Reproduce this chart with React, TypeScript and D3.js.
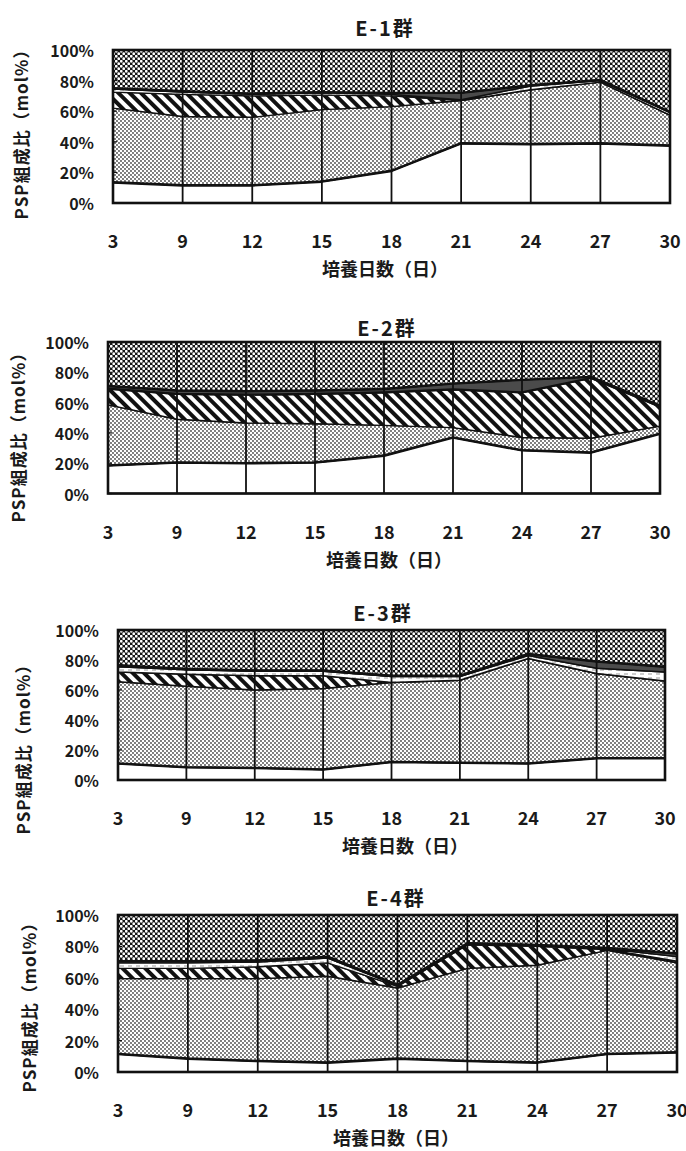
import { useEffect, useRef } from 'react';
import * as d3 from 'd3';

const W = 686;
const H = 1151;

const days = ['3', '9', '12', '15', '18', '21', '24', '27', '30'];
const yTicks = [0, 20, 40, 60, 80, 100];
const seriesKeys = ['white', 'light', 'hatch', 'dash', 'gray', 'dark'];

// E-1群 (mol%)
const e1White = [13.5, 11.5, 11.5, 14, 21, 39, 38.5, 39, 37.5];
const e1Light = [48.5, 45, 44.5, 47, 42, 28, 35.5, 40, 20];
const e1Hatch = [10.5, 14.5, 14, 9.5, 7, 0, 0, 0, 0];
const e1Dash = [2, 1.5, 1, 1.5, 1, 0.5, 2.5, 1, 1.5];
const e1Gray = [0.5, 0.5, 0.5, 0.5, 1, 4.5, 0.5, 0.5, 0.5];
const e1Dark = [25, 27, 28.5, 27.5, 28, 28, 23, 19.5, 40.5];

// E-2群
const e2White = [18.5, 20.5, 20, 20.5, 25, 37, 28.5, 27, 39.5];
const e2Light = [40, 28.5, 26.5, 25.5, 20, 6.5, 8.5, 9.5, 5];
const e2Hatch = [10.5, 16.5, 18.5, 19.5, 21.5, 25, 29.5, 39.5, 12.5];
const e2Dash = [0.5, 0.5, 0.5, 0.5, 0.5, 0.5, 0.5, 0.5, 0.5];
const e2Gray = [1.5, 2, 2, 2, 2, 3.5, 8, 0.5, 0.5];
const e2Dark = [29, 32, 32.5, 32, 31, 27.5, 25, 23, 42];

// E-3群
const e3White = [11, 8.5, 8, 7, 12, 11.5, 11, 14.5, 14.5];
const e3Light = [54.5, 54, 52, 54, 53, 55, 70, 56.5, 51.5];
const e3Hatch = [6.5, 8, 9.5, 8.5, 0, 0, 0, 0, 0];
const e3Dash = [3.5, 3, 3, 3, 4, 2.5, 2, 3.5, 6];
const e3Gray = [1, 0.5, 0.5, 0.5, 0.5, 0.5, 1, 4.5, 3.5];
const e3Dark = [23.5, 26, 27, 27, 30.5, 30.5, 16, 21, 24.5];

// E-4群
const e4White = [11.5, 8.5, 7, 6, 8.5, 7, 6, 11.5, 12.5];
const e4Light = [48, 51, 52.5, 55, 45, 59, 62, 66, 57];
const e4Hatch = [6.5, 6.5, 7.5, 8.5, 1, 15, 12, 0.5, 1];
const e4Dash = [3.5, 3.5, 3, 3, 0.5, 0.5, 0.5, 0.5, 3];
const e4Gray = [1, 1, 1, 1, 0.5, 0.5, 0.5, 0.5, 2];
const e4Dark = [29.5, 29.5, 29, 26.5, 44.5, 18, 19, 21, 24.5];

const groups = [
  { title: 'E-1群', white: e1White, light: e1Light, hatch: e1Hatch, dash: e1Dash, gray: e1Gray, dark: e1Dark },
  { title: 'E-2群', white: e2White, light: e2Light, hatch: e2Hatch, dash: e2Dash, gray: e2Gray, dark: e2Dark },
  { title: 'E-3群', white: e3White, light: e3Light, hatch: e3Hatch, dash: e3Dash, gray: e3Gray, dark: e3Dark },
  { title: 'E-4群', white: e4White, light: e4Light, hatch: e4Hatch, dash: e4Dash, gray: e4Gray, dark: e4Dark },
];

// where each panel sits on the page
const frames = [
  { left: 113, right: 670, top: 50, bottom: 203, titleX: 385, titleY: 27, xLabelX: 385, yLabelX: 20, yLabelY: 130 },
  { left: 108, right: 660, top: 342, bottom: 493.5, titleX: 387, titleY: 327, xLabelX: 389, yLabelX: 17, yLabelY: 433 },
  { left: 118, right: 665, top: 630, bottom: 780, titleX: 383, titleY: 612, xLabelX: 405, yLabelX: 22, yLabelY: 745 },
  { left: 118, right: 677, top: 915, bottom: 1072, titleX: 396, titleY: 897, xLabelX: 396, yLabelX: 28, yLabelY: 1003 },
];

const fills = {
  white: '#fff',
  light: 'url(#lightDots)',
  hatch: 'url(#hatch)',
  dash: 'url(#dashWhite)',
  gray: '#4b4b4b',
  dark: 'url(#darkDots)',
};

const FONT = "'Noto Sans CJK JP', 'Noto Sans', sans-serif";

export default function App() {
  const ref = useRef<SVGSVGElement>(null);

  useEffect(() => {
    const svg = d3.select(ref.current);
    svg.selectAll('*').remove();

    // Patrones
    const defs = svg.append('defs');
    const light = defs.append('pattern')
      .attr('id', 'lightDots').attr('patternUnits', 'userSpaceOnUse')
      .attr('width', 4).attr('height', 4);
    light.append('rect').attr('width', 4).attr('height', 4).attr('fill', '#fff');
    light.append('circle').attr('cx', 1).attr('cy', 1).attr('r', 0.9).attr('fill', '#444');
    light.append('circle').attr('cx', 3).attr('cy', 3).attr('r', 0.9).attr('fill', '#444');

    const dark = defs.append('pattern')
      .attr('id', 'darkDots').attr('patternUnits', 'userSpaceOnUse')
      .attr('width', 5).attr('height', 5);
    dark.append('rect').attr('width', 5).attr('height', 5).attr('fill', '#151515');
    dark.append('circle').attr('cx', 1.25).attr('cy', 1.25).attr('r', 1.4).attr('fill', '#fff');
    dark.append('circle').attr('cx', 3.75).attr('cy', 3.75).attr('r', 1.4).attr('fill', '#fff');

    const hatch = defs.append('pattern')
      .attr('id', 'hatch').attr('patternUnits', 'userSpaceOnUse')
      .attr('width', 8).attr('height', 8)
      .attr('patternTransform', 'rotate(-45)');
    hatch.append('rect').attr('width', 8).attr('height', 8).attr('fill', '#fff');
    hatch.append('rect').attr('width', 4).attr('height', 8).attr('fill', '#111');

    const dash = defs.append('pattern')
      .attr('id', 'dashWhite').attr('patternUnits', 'userSpaceOnUse')
      .attr('width', 8).attr('height', 4);
    dash.append('rect').attr('width', 8).attr('height', 4).attr('fill', '#fff');
    dash.append('rect').attr('x', 0).attr('y', 1.5).attr('width', 4).attr('height', 1).attr('fill', '#999');

    groups.forEach((g, gi) => {
      const f = frames[gi];
      const x = d3.scalePoint().domain(days).range([f.left, f.right]);
      const y = d3.scaleLinear().domain([0, 100]).range([f.bottom, f.top]);
      const table = days.map((d, i) => ({
        day: d,
        white: g.white[i], light: g.light[i], hatch: g.hatch[i],
        dash: g.dash[i], gray: g.gray[i], dark: g.dark[i],
      }));
      const stacked = d3.stack().keys(seriesKeys)(table as any);
      const area = d3.area<any>()
        .x(d => x(d.data.day))
        .y0(d => y(d[0]))
        .y1(d => y(d[1]));
      const panel = svg.append('g');

      // Áreas apiladas
      panel.selectAll('path.layer')
        .data(stacked)
        .join('path')
        .attr('class', 'layer')
        .attr('d', area)
        .attr('fill', d => fills[d.key])
        .attr('stroke', '#111')
        .attr('stroke-width', 1.4)
        .attr('stroke-linejoin', 'round');

      // Líneas gruesas: techo del blanco y base del punteado oscuro
      const edge = (k: number, top: boolean) => d3.line<any>()
        .x(d => x(d.data.day))
        .y(d => y(top ? d[1] : d[0]))(stacked[k]);
      panel.append('path').attr('d', edge(0, true)).attr('fill', 'none')
        .attr('stroke', '#111').attr('stroke-width', 2.6).attr('stroke-linejoin', 'round');
      panel.append('path').attr('d', edge(5, false)).attr('fill', 'none')
        .attr('stroke', '#111').attr('stroke-width', 2.4).attr('stroke-linejoin', 'round');

      // Verticales en cada día
      panel.selectAll('line.grid')
        .data(days)
        .join('line')
        .attr('class', 'grid')
        .attr('x1', d => x(d)).attr('x2', d => x(d))
        .attr('y1', f.top).attr('y2', f.bottom)
        .attr('stroke', '#111').attr('stroke-width', 1.8);

      // Marco
      panel.append('rect')
        .attr('x', f.left).attr('y', f.top)
        .attr('width', f.right - f.left).attr('height', f.bottom - f.top)
        .attr('fill', 'none').attr('stroke', '#111').attr('stroke-width', 2.6);

      // Eje Y
      panel.selectAll('line.ytick')
        .data(yTicks)
        .join('line')
        .attr('class', 'ytick')
        .attr('x1', f.left).attr('x2', f.left + 4)
        .attr('y1', d => y(d)).attr('y2', d => y(d))
        .attr('stroke', '#111').attr('stroke-width', 1.2);
      panel.selectAll('text.ylab')
        .data(yTicks)
        .join('text')
        .attr('class', 'ylab')
        .attr('x', f.left - 19)
        .attr('y', d => y(d))
        .attr('text-anchor', 'end')
        .attr('dominant-baseline', 'central')
        .attr('font-family', FONT)
        .attr('font-size', 16)
        .attr('font-weight', 600)
        .attr('fill', '#1a1a1a')
        .text(d => d + '%');

      // Eje X
      panel.selectAll('text.xlab')
        .data(days)
        .join('text')
        .attr('class', 'xlab')
        .attr('x', d => x(d))
        .attr('y', f.bottom + 37)
        .attr('text-anchor', 'middle')
        .attr('dominant-baseline', 'central')
        .attr('font-family', FONT)
        .attr('font-size', 18)
        .attr('font-weight', 600)
        .attr('fill', '#1a1a1a')
        .text(d => d);

      // Títulos
      panel.append('text')
        .attr('x', f.titleX).attr('y', f.titleY)
        .attr('text-anchor', 'middle').attr('dominant-baseline', 'central')
        .attr('font-family', FONT).attr('font-size', 20).attr('letter-spacing', 2)
        .attr('font-weight', 600)
        .attr('fill', '#1a1a1a')
        .text(g.title);
      panel.append('text')
        .attr('x', f.xLabelX).attr('y', f.bottom + 65)
        .attr('text-anchor', 'middle').attr('dominant-baseline', 'central')
        .attr('font-family', FONT).attr('font-size', 18)
        .attr('font-weight', 600)
        .attr('fill', '#1a1a1a')
        .text('培養日数（日）');
      panel.append('text')
        .attr('transform', `translate(${f.yLabelX},${f.yLabelY}) rotate(-90)`)
        .attr('text-anchor', 'middle').attr('dominant-baseline', 'central')
        .attr('font-family', FONT).attr('font-size', 17).attr('letter-spacing', 1)
        .attr('font-weight', 600)
        .attr('fill', '#1a1a1a')
        .text('PSP組成比（mol%）');
    });
  }, []);

  return (
    <svg
      ref={ref}
      width={W}
      height={H}
      style={{ position: 'absolute', left: 0, top: 0, background: '#fff', display: 'block' }}
    />
  );
}
